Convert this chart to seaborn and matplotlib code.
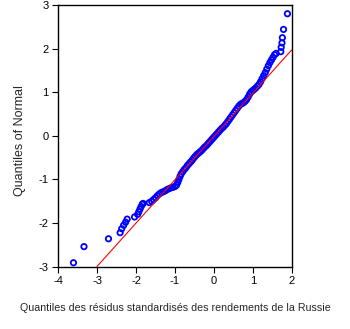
import numpy as np
import pandas as pd
import seaborn as sns
import matplotlib.pyplot as plt

# sample quantiles (standardized residuals)
resid_q = [
    -3.61, -3.34, -2.71, -2.41, -2.37, -2.32, -2.27, -2.23, -2.04, -1.96,
    -1.93, -1.90, -1.87, -1.84, -1.82, -1.66, -1.60, -1.55, -1.50, -1.45,
    -1.40, -1.35, -1.30, -1.25, -1.20, -1.15, -1.10, -1.05, -1.00, -0.96,
    -0.93, -0.90, -0.87, -0.84, -0.80, -0.76, -0.72, -0.68, -0.64, -0.60,
    -0.56, -0.52, -0.48, -0.44, -0.40, -0.36, -0.32, -0.28, -0.24, -0.20,
    -0.16, -0.12, -0.08, -0.04, 0.00, 0.04, 0.08, 0.12, 0.16, 0.20,
    0.24, 0.28, 0.32, 0.36, 0.40, 0.44, 0.48, 0.52, 0.56, 0.60,
    0.64, 0.68, 0.72, 0.76, 0.80, 0.84, 0.88, 0.92, 0.96, 1.00,
    1.04, 1.08, 1.12, 1.16, 1.20, 1.24, 1.28, 1.32, 1.36, 1.40,
    1.44, 1.48, 1.52, 1.56, 1.60, 1.72, 1.73, 1.75, 1.76, 1.79, 1.89,
]
# matching normal quantiles
normal_q = [
    -2.91, -2.54, -2.36, -2.22, -2.13, -2.05, -1.98, -1.91, -1.86, -1.80,
    -1.74, -1.68, -1.62, -1.57, -1.55, -1.53, -1.50, -1.46, -1.42, -1.37,
    -1.33, -1.30, -1.28, -1.26, -1.23, -1.21, -1.19, -1.18, -1.16, -1.13,
    -1.07, -1.00, -0.93, -0.87, -0.82, -0.77, -0.73, -0.68, -0.64, -0.60,
    -0.56, -0.51, -0.47, -0.43, -0.40, -0.37, -0.34, -0.30, -0.26, -0.23,
    -0.19, -0.15, -0.11, -0.07, -0.03, 0.01, 0.05, 0.09, 0.13, 0.17,
    0.20, 0.24, 0.28, 0.33, 0.38, 0.43, 0.48, 0.53, 0.58, 0.63,
    0.68, 0.72, 0.74, 0.76, 0.79, 0.83, 0.89, 0.96, 1.01, 1.04,
    1.07, 1.10, 1.14, 1.18, 1.24, 1.31, 1.38, 1.45, 1.53, 1.61,
    1.68, 1.74, 1.80, 1.86, 1.89, 1.93, 2.03, 2.13, 2.25, 2.44, 2.80,
]
# reference line end points
line_x = [-3.01, 2.00]
line_y = [-3.00, 1.97]

xticks = [-4, -3, -2, -1, 0, 1, 2]
yticks = [-3, -2, -1, 0, 1, 2, 3]

sns.set_style("ticks")
plt.rcParams['font.family'] = ['Liberation Sans', 'DejaVu Sans']
plt.rcParams['axes.unicode_minus'] = False

fig = plt.figure(figsize=(3.5, 3.29), dpi=100)
ax = fig.add_axes([0.1666, 0.1894, 0.6668, 0.7954])

df = pd.DataFrame({'x': resid_q, 'y': normal_q})
sns.scatterplot(data=df, x='x', y='y', marker='o', s=15,
                facecolors='none', edgecolor='blue', linewidth=1.3, ax=ax)
# red line drawn over the points
sns.lineplot(x=line_x, y=line_y, color='red', linewidth=0.8, ax=ax, zorder=3)

ax.set_xlim(-4, 2)
ax.set_ylim(-3, 3)
ax.set_xticks(xticks)
ax.set_yticks(yticks)
ax.tick_params(direction='out', length=4, width=0.8, labelsize=8, colors='black', pad=3)
for s in ax.spines.values():
    s.set_linewidth(1.0)
    s.set_color('black')

ax.set_xlabel('')
ax.set_ylabel('')
fig.text(0.5, 0.064, 'Quantiles des résidus standardisés des rendements de la Russie',
         ha='center', va='center', fontsize=7.7)
fig.text(0.057, 0.574, 'Quantiles of Normal', rotation=90,
         ha='center', va='center', fontsize=9)

fig.savefig('out.png', dpi=100)
